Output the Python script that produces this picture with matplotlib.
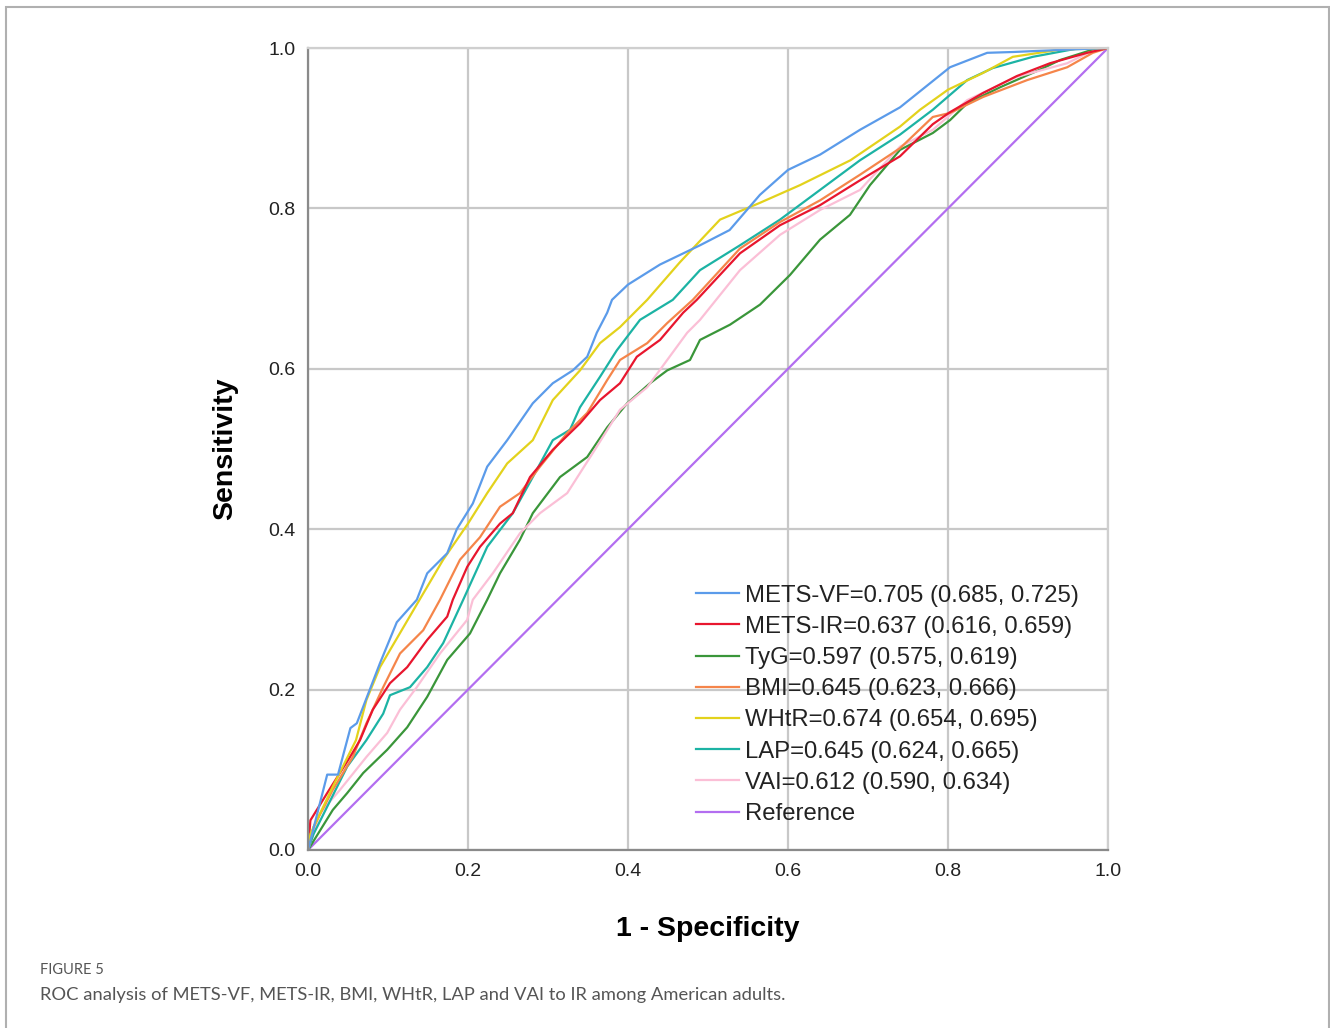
import matplotlib.pyplot as plt
from matplotlib.patches import Rectangle

# ROC points (fpr, tpr)
vf_x = [0, 0.024, 0.0375, 0.053, 0.061, 0.09, 0.111, 0.136, 0.149, 0.174, 0.186, 0.206, 0.224, 0.249, 0.281,
        0.306, 0.331, 0.349, 0.361, 0.374, 0.38, 0.40, 0.44, 0.49, 0.527, 0.565, 0.60, 0.64, 0.69, 0.74,
        0.79, 0.8025, 0.849, 0.881, 0.95, 1]
vf_y = [0, 0.094, 0.094, 0.152, 0.158, 0.233, 0.284, 0.312, 0.345, 0.37, 0.40, 0.432, 0.478, 0.511, 0.557,
        0.582, 0.598, 0.615, 0.645, 0.67, 0.686, 0.705, 0.73, 0.754, 0.773, 0.817, 0.848, 0.867, 0.898, 0.926,
        0.966, 0.976, 0.994, 0.995, 0.998, 1]

ir_x = [0, 0.003, 0.024, 0.0525, 0.065, 0.081, 0.1025, 0.124, 0.149, 0.174, 0.181, 0.199, 0.215, 0.24, 0.256,
        0.2775, 0.306, 0.34, 0.365, 0.39, 0.411, 0.44, 0.469, 0.486, 0.54, 0.59, 0.64, 0.69, 0.74, 0.781,
        0.8025, 0.844, 0.886, 0.9275, 0.974, 1]
ir_y = [0, 0.037, 0.071, 0.116, 0.137, 0.175, 0.208, 0.228, 0.262, 0.291, 0.312, 0.353, 0.378, 0.407, 0.42,
        0.465, 0.499, 0.532, 0.561, 0.582, 0.615, 0.636, 0.67, 0.686, 0.744, 0.779, 0.804, 0.835, 0.865, 0.905,
        0.92, 0.944, 0.965, 0.981, 0.994, 1]

tyg_x = [0, 0.031, 0.049, 0.069, 0.099, 0.124, 0.149, 0.174, 0.2025, 0.224, 0.24, 0.265, 0.281, 0.315, 0.349,
         0.374, 0.399, 0.4275, 0.449, 0.4775, 0.49, 0.5275, 0.565, 0.6025, 0.64, 0.6775, 0.7025, 0.74, 0.781,
         0.8025, 0.824, 0.865, 0.915, 0.94, 0.981, 1]
tyg_y = [0, 0.05, 0.071, 0.096, 0.125, 0.153, 0.191, 0.237, 0.27, 0.312, 0.345, 0.387, 0.42, 0.465, 0.49,
         0.527, 0.557, 0.582, 0.598, 0.611, 0.636, 0.655, 0.68, 0.717, 0.761, 0.792, 0.829, 0.873, 0.894,
         0.91, 0.931, 0.951, 0.973, 0.985, 0.998, 1]

bmi_x = [0, 0.007, 0.031, 0.056, 0.073, 0.094, 0.115, 0.144, 0.165, 0.19, 0.215, 0.24, 0.265, 0.29, 0.324,
         0.349, 0.374, 0.39, 0.424, 0.449, 0.481, 0.54, 0.59, 0.64, 0.69, 0.74, 0.781, 0.8025, 0.844, 0.899,
         0.949, 0.981, 1]
bmi_y = [0, 0.029, 0.075, 0.116, 0.158, 0.203, 0.245, 0.274, 0.312, 0.362, 0.39, 0.428, 0.445, 0.478, 0.52,
         0.545, 0.586, 0.611, 0.632, 0.657, 0.686, 0.75, 0.783, 0.81, 0.842, 0.875, 0.914, 0.919, 0.939, 0.96,
         0.976, 0.994, 1]

whtr_x = [0, 0.003, 0.031, 0.06, 0.073, 0.09, 0.14, 0.169, 0.2, 0.224, 0.249, 0.281, 0.306, 0.34, 0.365,
          0.39, 0.424, 0.465, 0.515, 0.565, 0.615, 0.678, 0.74, 0.765, 0.80, 0.844, 0.881, 0.94, 1]
whtr_y = [0, 0.02, 0.079, 0.137, 0.187, 0.228, 0.313, 0.362, 0.407, 0.445, 0.482, 0.511, 0.561, 0.598, 0.632,
          0.652, 0.686, 0.733, 0.786, 0.807, 0.829, 0.86, 0.902, 0.923, 0.948, 0.969, 0.989, 0.998, 1]

lap_x = [0, 0.007, 0.024, 0.049, 0.073, 0.094, 0.1025, 0.1275, 0.149, 0.169, 0.194, 0.224, 0.256, 0.281, 0.306,
         0.3275, 0.34, 0.365, 0.386, 0.415, 0.456, 0.49, 0.54, 0.59, 0.64, 0.69, 0.74, 0.781, 0.824, 0.856,
         0.906, 0.965, 1]
lap_y = [0, 0.02, 0.054, 0.104, 0.137, 0.17, 0.193, 0.203, 0.228, 0.258, 0.312, 0.378, 0.42, 0.465, 0.511,
         0.524, 0.552, 0.59, 0.623, 0.661, 0.686, 0.723, 0.754, 0.786, 0.823, 0.86, 0.892, 0.923, 0.96, 0.975,
         0.989, 1.0, 1]

vai_x = [0, 0.015, 0.04, 0.073, 0.099, 0.115, 0.136, 0.165, 0.199, 0.206, 0.231, 0.265, 0.29, 0.324, 0.356,
         0.39, 0.424, 0.449, 0.474, 0.49, 0.54, 0.59, 0.64, 0.69, 0.74, 0.781, 0.824, 0.886, 0.949, 0.975, 1]
vai_y = [0, 0.046, 0.075, 0.116, 0.146, 0.175, 0.203, 0.245, 0.287, 0.312, 0.345, 0.395, 0.42, 0.445, 0.495,
         0.549, 0.577, 0.611, 0.645, 0.661, 0.723, 0.767, 0.798, 0.823, 0.877, 0.898, 0.935, 0.964, 0.981, 0.994, 1]

ref_x = [0, 1]
ref_y = [0, 1]

labels = ['METS-VF=0.705 (0.685, 0.725)', 'METS-IR=0.637 (0.616, 0.659)', 'TyG=0.597 (0.575, 0.619)',
          'BMI=0.645 (0.623, 0.666)', 'WHtR=0.674 (0.654, 0.695)', 'LAP=0.645 (0.624, 0.665)',
          'VAI=0.612 (0.590, 0.634)', 'Reference']
colors = ['#5b9bea', '#e8162e', '#3a963a', '#f5854a', '#e3d21c', '#1cb3a4', '#fbbfd6', '#b36ef0']

series = [(vf_x, vf_y), (ir_x, ir_y), (tyg_x, tyg_y), (bmi_x, bmi_y), (whtr_x, whtr_y),
          (lap_x, lap_y), (vai_x, vai_y), (ref_x, ref_y)]

plt.rcParams['font.family'] = ['Liberation Sans', 'DejaVu Sans']

fig = plt.figure(figsize=(13.3, 10.28), dpi=100)
fig.patches.append(Rectangle((6 / 1330, -0.01), 1323 / 1330, 1.01 - 7 / 1028, transform=fig.transFigure,
                             fill=False, edgecolor='#b0b0b0', linewidth=1.5))

ax = fig.add_axes([308 / 1330, 178 / 1028, 800 / 1330, 802 / 1028])
ticks = [0.0, 0.2, 0.4, 0.6, 0.8, 1.0]
ax.set_xticks(ticks)
ax.set_yticks(ticks)
ax.set_xticklabels(['%.1f' % t for t in ticks])
ax.set_yticklabels(['%.1f' % t for t in ticks])
ax.grid(True, color='#c8c8c8', linewidth=1.6)
ax.set_axisbelow(True)

# draw order: reference first, METS-VF on top-ish like the original
order = [7, 2, 6, 5, 3, 1, 4, 0]
handles = {}
for i in order:
    x, y = series[i]
    h, = ax.plot(x, y, color=colors[i], linewidth=1.6, label=labels[i])
    handles[i] = h

ax.set_xlim(0, 1)
ax.set_ylim(0, 1)
ax.tick_params(length=0, labelsize=14, colors='#222222', pad=9)
for s in ['left', 'bottom']:
    ax.spines[s].set_color('#8a8a8a')
    ax.spines[s].set_linewidth(1.6)
for s in ['top', 'right']:
    ax.spines[s].set_color('#cfcfcf')
    ax.spines[s].set_linewidth(1.6)

ax.set_xlabel('1 - Specificity', fontsize=20.5, fontweight='bold', labelpad=26)
ax.set_ylabel('Sensitivity', fontsize=20.5, fontweight='bold', labelpad=22)

leg = ax.legend([handles[i] for i in range(8)], labels, loc='upper left',
                bbox_to_anchor=(0.485, 0.331), frameon=False, fontsize=17.2,
                handlelength=1.8, handletextpad=0.25, labelspacing=0.385, borderpad=0, borderaxespad=0)
for t in leg.get_texts():
    t.set_color('#222222')

fig.text(40 / 1330, 1 - 970 / 1028, 'FIGURE 5', fontsize=10.5, color='#555555', family='Lato', va='center')
fig.text(40 / 1330, 1 - 995 / 1028,
         'ROC analysis of METS-VF, METS-IR, BMI, WHtR, LAP and VAI to IR among American adults.',
         fontsize=13.2, color='#555555', family='Lato', va='center')

fig.savefig('out.png', dpi=100)
